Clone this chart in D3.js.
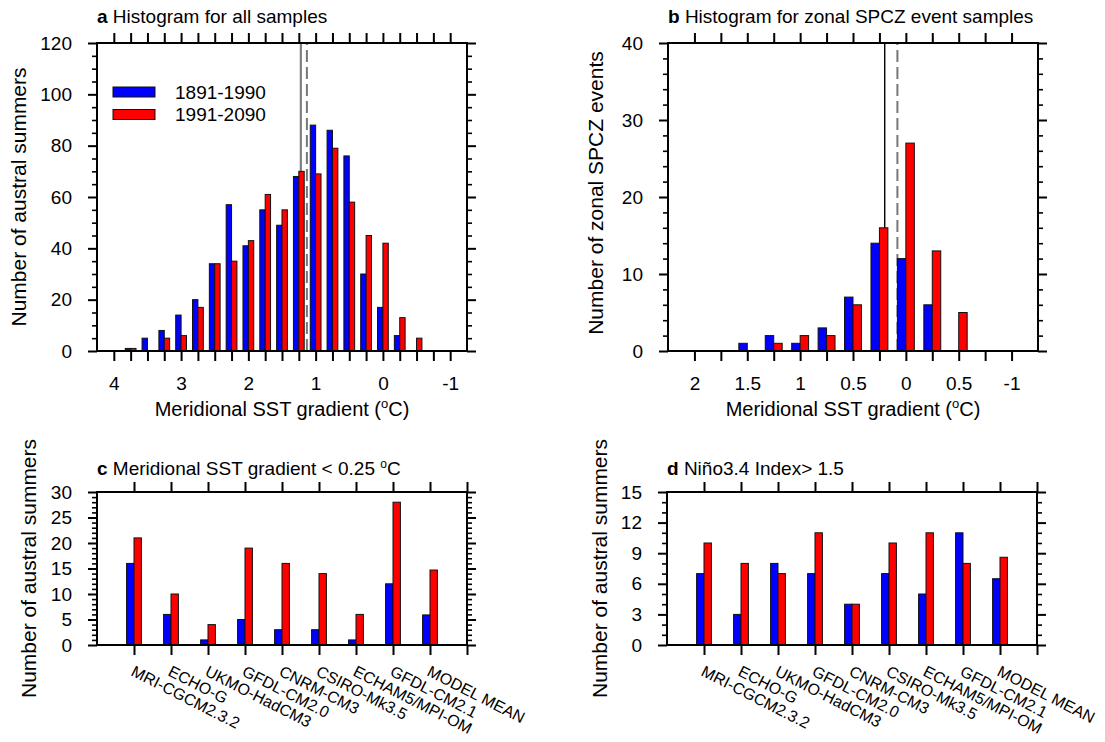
<!DOCTYPE html>
<html>
<head>
<meta charset="utf-8">
<script src="https://cdn.jsdelivr.net/npm/d3@7"></script>
<style>
  body { margin: 0; background: #fff; }
  text { font-family: "Liberation Sans", Arial, Helvetica, sans-serif; fill: #000; }
  .tick text { font-size: 19px; }
</style>
</head>
<body>
<svg id="fig" width="1105" height="742"></svg>
<script>
// the two periods compared in every panel
const periods = ["1891-1990", "1991-2090"];
const periodColours = ["#0000ff", "#ff0000"];

// a: all samples, counts per 0.25 degC bin
const histA_bins  = [4, 3.75, 3.5, 3.25, 3, 2.75, 2.5, 2.25, 2, 1.75, 1.5, 1.25, 1, 0.75, 0.5, 0.25, 0, -0.25, -0.5, -0.75, -1];
const histA_early = [0, 1, 5, 8, 14, 20, 34, 57, 41, 55, 49, 68, 88, 86, 76, 30, 17, 6, 0, 0, 0];
const histA_late  = [0, 1, 0, 5, 6, 17, 34, 35, 43, 61, 55, 70, 69, 79, 58, 45, 42, 13, 5, 0, 0];
const histA_labelled = [4, 3, 2, 1, 0, -1];
const histA_means = [1.22, 1.13];   // solid, dashed

// b: zonal SPCZ events
const histB_bins  = [2, 1.75, 1.5, 1.25, 1, 0.75, 0.5, 0.25, 0, -0.25, -0.5, -0.75, -1];
const histB_early = [0, 0, 1, 2, 1, 3, 7, 14, 12, 6, 0, 0, 0];
const histB_late  = [0, 0, 0, 1, 2, 2, 6, 16, 27, 13, 5, 0, 0];
const histB_labelled = [2, 1.5, 1, 0.5, 0, -0.5, -1];
const histB_tickText = ["2", "1.5", "1", "0.5", "0", "0.5", "-1"];
const histB_means = [0.2, 0.08];

// c and d: per model counts
const models = ["MRI-CGCM2.3.2", "ECHO-G", "UKMO-HadCM3", "GFDL-CM2.0", "CNRM-CM3",
                "CSIRO-Mk3.5", "ECHAM5/MPI-OM", "GFDL-CM2.1", "MODEL MEAN"];
const sstEarly  = [16, 6, 1, 5, 3, 3, 1, 12, 5.9];
const sstLate   = [21, 10, 4, 19, 16, 14, 6, 28, 14.7];
const ninoEarly = [7, 3, 8, 7, 4, 7, 5, 11, 6.5];
const ninoLate  = [10, 8, 7, 11, 4, 10, 11, 8, 8.6];

const svg = d3.select("#fig");
svg.append("rect").attr("width", 1105).attr("height", 742).attr("fill", "#fff");

// frame with outward ticks on all four sides
function drawAxes(g, x, y, o) {
  const none = () => "";
  const [y0, y1] = y.range();
  const [x0, x1] = x.range();

  g.append("g").attr("transform", `translate(0,${y0})`)
    .call(d3.axisBottom(x).tickValues(o.xTicks).tickSize(10).tickPadding(16).tickFormat(o.xFormat || none));
  g.append("g").attr("transform", `translate(0,${y1})`)
    .call(d3.axisTop(x).tickValues(o.xTicks).tickSize(10).tickFormat(none));

  g.append("g").attr("transform", `translate(${x0},0)`)
    .call(d3.axisLeft(y).tickValues(o.yMajor).tickSize(9).tickPadding(16).tickFormat(d3.format("d")));
  g.append("g").attr("transform", `translate(${x0},0)`).attr("class", "minor")
    .call(d3.axisLeft(y).tickValues(o.yMinor).tickSize(5).tickFormat(none));
  g.append("g").attr("transform", `translate(${x1},0)`)
    .call(d3.axisRight(y).tickValues(o.yMajor).tickSize(9).tickFormat(none));
  g.append("g").attr("transform", `translate(${x1},0)`).attr("class", "minor")
    .call(d3.axisRight(y).tickValues(o.yMinor).tickSize(5).tickFormat(none));

  g.selectAll(".domain").remove();
  g.selectAll(".tick line").attr("stroke", "#000").attr("stroke-width", 2);
  g.selectAll(".minor .tick line").attr("stroke-width", 1.6);

  g.append("rect")
    .attr("x", x0).attr("y", y1).attr("width", x1 - x0).attr("height", y0 - y1)
    .attr("fill", "none").attr("stroke", "#000").attr("stroke-width", 2);
}

function title(g, x, y, letter, rest) {
  const t = g.append("text").attr("x", x).attr("y", y).style("font-size", "19px");
  t.append("tspan").attr("font-weight", "bold").text(letter);
  rest(t);
}

function yLabel(g, x, y, txt) {
  g.append("text")
    .attr("transform", `translate(${x},${y}) rotate(-90)`)
    .attr("text-anchor", "middle").style("font-size", "21px").text(txt);
}

function histPanel(o) {
  const g = svg.append("g");
  const x = d3.scaleLinear().domain(o.xDomain).range([o.left, o.right]);
  const y = d3.scaleLinear().domain([0, o.yMax]).range([o.bottom, o.top]);
  const bw = 0.08;

  // mean lines drawn first so bars sit on top
  g.selectAll("line.mean").data(o.means).enter().append("line")
    .attr("x1", d => x(d)).attr("x2", d => x(d))
    .attr("y1", y(0)).attr("y2", y(o.yMax))
    .attr("stroke", (d, i) => i === 0 ? o.solidColour : "#777")
    .attr("stroke-width", (d, i) => i === 0 ? o.solidWidth : 2)
    .attr("stroke-dasharray", (d, i) => i === 0 ? null : "12,5");

  [o.early, o.late].forEach((series, k) => {
    const rows = o.bins.map((b, i) => ({ b, v: series[i] })).filter(d => d.v > 0);
    g.selectAll(null).data(rows).enter().append("rect")
      .attr("x", d => k === 0 ? x(d.b + bw) : x(d.b))
      .attr("width", d => Math.abs(x(d.b) - x(d.b + bw)))
      .attr("y", d => y(d.v))
      .attr("height", d => y(0) - y(d.v))
      .attr("fill", periodColours[k]).attr("stroke", "#111").attr("stroke-width", 1);
  });

  drawAxes(g, x, y, {
    xTicks: o.bins,
    xFormat: d => { const i = o.labelled.indexOf(d); return i < 0 ? "" : o.tickText[i]; },
    yMajor: d3.range(0, o.yMax + 1, o.yStep),
    yMinor: d3.range(0, o.yMax + 1, o.yMinorStep).filter(v => v % o.yStep !== 0)
  });

  const xl = g.append("text")
    .attr("x", (o.left + o.right) / 2).attr("y", 416)
    .attr("text-anchor", "middle").style("font-size", "20px");
  xl.append("tspan").text("Meridional SST gradient (");
  xl.append("tspan").attr("dy", -8).style("font-size", "13px").text("o");
  xl.append("tspan").attr("dy", 8).text("C)");

  yLabel(g, o.yLabelX, o.yLabelY, o.yLabel);
  title(g, o.left, 23, o.letter, t => t.append("tspan").text(" " + o.title));
  return g;
}

function modelPanel(o) {
  const g = svg.append("g");
  const x = d3.scaleLinear().domain([0, models.length + 1]).range([o.left, o.right]);
  const y = d3.scaleLinear().domain([0, o.yMax]).range([o.bottom, o.top]);
  const bw = 0.2;

  [o.early, o.late].forEach((series, k) => {
    g.selectAll(null).data(series).enter().append("rect")
      .attr("x", (d, i) => k === 0 ? x(i + 1 - bw) : x(i + 1))
      .attr("width", x(bw) - x(0))
      .attr("y", d => y(d))
      .attr("height", d => y(0) - y(d))
      .attr("fill", periodColours[k]).attr("stroke", "#111").attr("stroke-width", 1);
  });

  drawAxes(g, x, y, {
    xTicks: d3.range(1, models.length + 2),
    yMajor: d3.range(0, o.yMax + 1, o.yStep),
    yMinor: d3.range(0, o.yMax + 1, 1).filter(v => v % o.yStep !== 0)
  });

  g.selectAll("text.model").data(models).enter().append("text")
    .attr("class", "model")
    .attr("transform", (d, i) => `translate(${x(i + 1) - 4},${o.bottom + 30}) rotate(27)`)
    .style("font-size", "16px").text(d => d);

  yLabel(g, o.yLabelX, (o.top + o.bottom) / 2, "Number of austral summers");
  title(g, o.left, o.top - 17, o.letter, o.title);
  return g;
}

// a
const ga = histPanel({
  letter: "a", title: "Histogram for all samples",
  left: 97, right: 467, top: 43, bottom: 351,
  xDomain: [4.25, -1.25], yMax: 120, yStep: 20, yMinorStep: 5,
  bins: histA_bins, early: histA_early, late: histA_late,
  labelled: histA_labelled, tickText: histA_labelled.map(String),
  means: histA_means, solidColour: "#808080", solidWidth: 2.2,
  yLabel: "Number of austral summers", yLabelX: 26, yLabelY: 197
});

// legend for a
periods.forEach((p, k) => {
  ga.append("rect").attr("x", 113).attr("y", 87 + k * 22.5).attr("width", 42).attr("height", 10)
    .attr("fill", periodColours[k]).attr("stroke", "#111").attr("stroke-width", 1);
  ga.append("text").attr("x", 175).attr("y", 92 + k * 22.5).attr("dy", "0.35em")
    .style("font-size", "19px").text(p);
});

// b
histPanel({
  letter: "b", title: "Histogram for zonal SPCZ event samples",
  left: 668, right: 1038, top: 43, bottom: 351,
  xDomain: [2.25, -1.25], yMax: 40, yStep: 10, yMinorStep: 2,
  bins: histB_bins, early: histB_early, late: histB_late,
  labelled: histB_labelled, tickText: histB_tickText,
  means: histB_means, solidColour: "#000", solidWidth: 1.4,
  yLabel: "Number of zonal SPCZ events", yLabelX: 603, yLabelY: 193
});

// c
modelPanel({
  letter: "c", left: 97, right: 467, top: 492, bottom: 645,
  yMax: 30, yStep: 5, early: sstEarly, late: sstLate, yLabelX: 36,
  title: t => {
    t.append("tspan").text(" Meridional SST gradient < 0.25 ");
    t.append("tspan").attr("dy", -7).style("font-size", "12px").text("o");
    t.append("tspan").attr("dy", 7).text("C");
  }
});

// d
modelPanel({
  letter: "d", left: 667, right: 1037, top: 492, bottom: 645,
  yMax: 15, yStep: 3, early: ninoEarly, late: ninoLate, yLabelX: 607,
  title: t => t.append("tspan").text(" Niño3.4 Index> 1.5")
});
</script>
</body>
</html>
